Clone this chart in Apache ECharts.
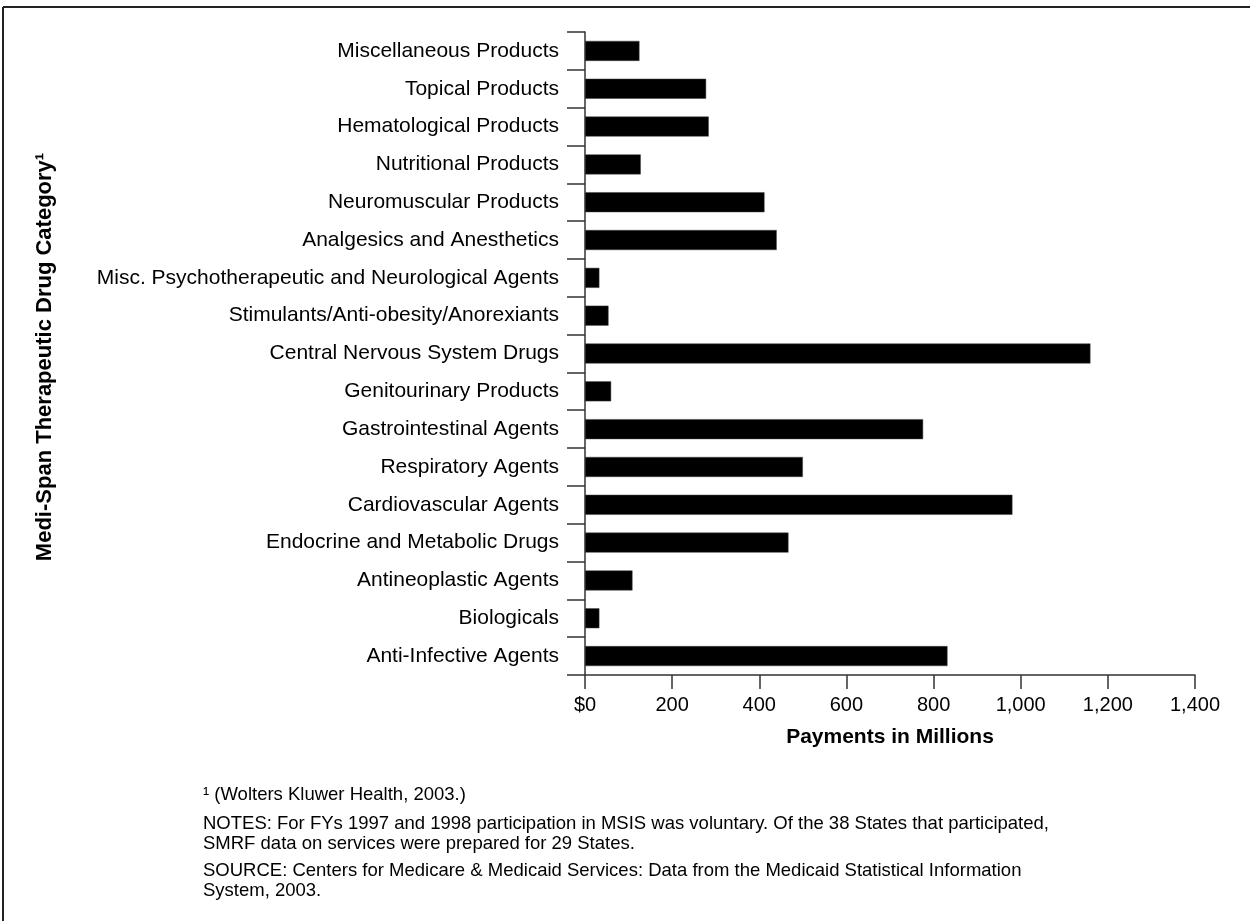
<!DOCTYPE html>
<html>
<head>
<meta charset="utf-8">
<script src="https://cdn.jsdelivr.net/npm/echarts@6/dist/echarts.min.js"></script>
<style>
html,body{margin:0;padding:0;background:#fff;}
#chart{width:1250px;height:921px;}
</style>
</head>
<body>
<div id="chart"></div>
<script>
var categories = [
  "Miscellaneous Products",
  "Topical Products",
  "Hematological Products",
  "Nutritional Products",
  "Neuromuscular Products",
  "Analgesics and Anesthetics",
  "Misc. Psychotherapeutic and Neurological Agents",
  "Stimulants/Anti-obesity/Anorexiants",
  "Central Nervous System Drugs",
  "Genitourinary Products",
  "Gastrointestinal Agents",
  "Respiratory Agents",
  "Cardiovascular Agents",
  "Endocrine and Metabolic Drugs",
  "Antineoplastic Agents",
  "Biologicals",
  "Anti-Infective Agents"
];
var payments = [125, 278, 284, 128, 412, 440, 33, 54, 1160, 60, 776, 500, 981, 467, 109, 33, 832];
var xTickLabels = ["$0", "200", "400", "600", "800", "1,000", "1,200", "1,400"];
var yAxisTitle = "Medi-Span Therapeutic Drug Category\u00b9";
var xAxisTitle = "Payments in Millions";
var footnotes = [
  "\u00b9 (Wolters Kluwer Health, 2003.)",
  "NOTES: For FYs 1997 and 1998 participation in MSIS was voluntary. Of the 38 States that participated,",
  "SMRF data on services were prepared for 29 States.",
  "SOURCE: Centers for Medicare & Medicaid Services: Data from the Medicaid Statistical Information",
  "System, 2003."
];

var FONT = '"Liberation Sans", Arial, Helvetica, sans-serif';
var chart = echarts.init(document.getElementById('chart'));
var footY = [795, 824, 844, 871, 891];
var graphics = [
  {type:'line', shape:{x1:3, y1:7, x2:1250, y2:7}, style:{stroke:'#222', lineWidth:2}},
  {type:'line', shape:{x1:3, y1:7, x2:3, y2:921}, style:{stroke:'#222', lineWidth:2}},
  {type:'text', x:45, y:357, rotation:Math.PI/2,
   style:{text:yAxisTitle, font:'bold 22px ' + FONT, fill:'#000', textAlign:'center', textVerticalAlign:'middle'}}
];
footnotes.forEach(function(t, i){
  graphics.push({type:'text', x:203, y:footY[i],
    style:{text:t, font:'18.5px ' + FONT, fill:'#000', textAlign:'left', textVerticalAlign:'middle'}});
});

chart.setOption({
  backgroundColor:'#fff',
  animation:false,
  textStyle:{fontFamily:FONT},
  grid:{left:585, right:55, top:32, bottom:246, containLabel:false},
  xAxis:{
    type:'value', min:0, max:1400, interval:200,
    axisLine:{show:true, lineStyle:{color:'#333', width:1.5}},
    axisTick:{show:true, length:14, lineStyle:{color:'#333', width:1.5}},
    splitLine:{show:false},
    axisLabel:{fontSize:20, color:'#000', margin:20,
      formatter:function(v){ return xTickLabels[Math.round(v/200)]; }},
    name:xAxisTitle, nameLocation:'middle', nameGap:52,
    nameTextStyle:{fontSize:21, fontWeight:'bold', color:'#000'}
  },
  yAxis:{
    type:'category', data:categories, inverse:true,
    axisLine:{show:true, lineStyle:{color:'#333', width:1.5}},
    axisTick:{show:true, length:18, alignWithLabel:false, lineStyle:{color:'#333', width:1.5}},
    axisLabel:{fontSize:21, color:'#000', margin:26}
  },
  series:[{
    type:'bar', data:payments, barWidth:20,
    itemStyle:{color:'#000', borderColor:'#444', borderWidth:0.5}
  }],
  graphic:graphics
});
</script>
</body>
</html>
